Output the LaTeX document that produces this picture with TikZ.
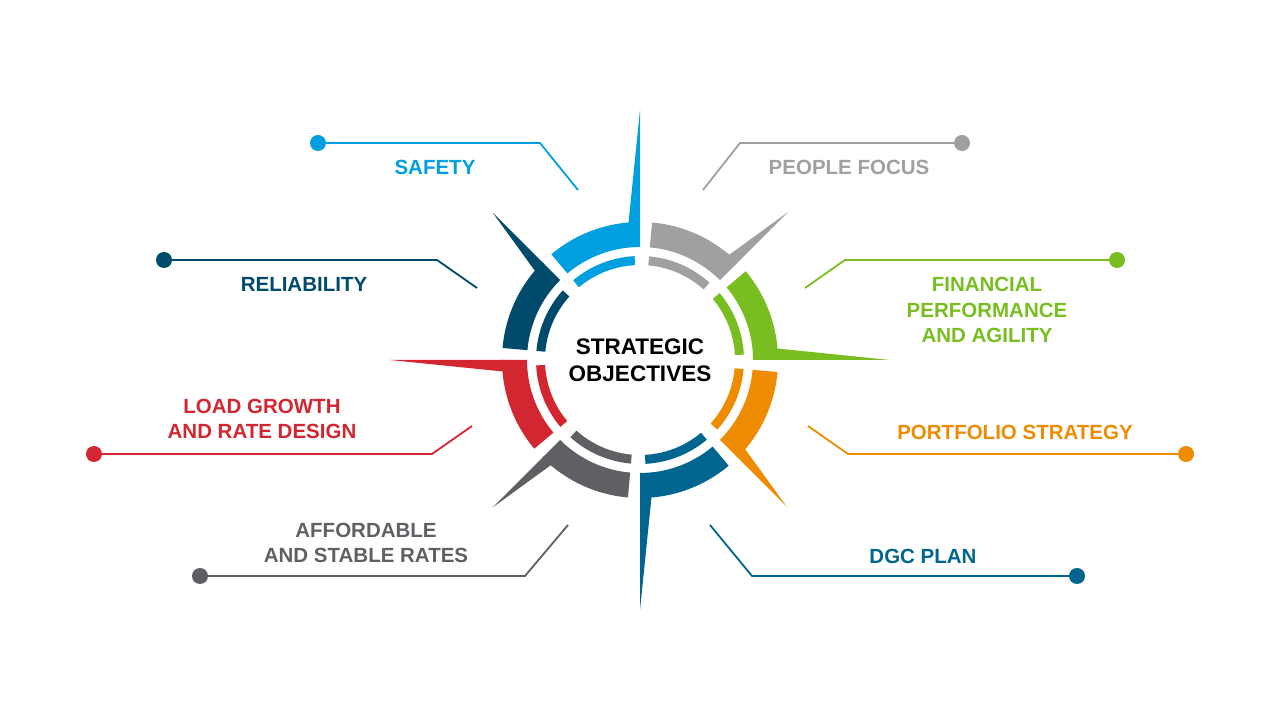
\documentclass[tikz,border=0pt]{standalone}
\usepackage{fontspec}
\setmainfont{Liberation Sans}
\usetikzlibrary{calc}
\definecolor{csky}{HTML}{009FDF}
\definecolor{cgrey}{HTML}{A0A0A0}
\definecolor{cgreen}{HTML}{78BE20}
\definecolor{corange}{HTML}{EE8B00}
\definecolor{cblue}{HTML}{00658F}
\definecolor{cdgrey}{HTML}{5F6064}
\definecolor{cred}{HTML}{D22630}
\definecolor{cnavy}{HTML}{004B6B}
\tikzset{lbl/.style={font=\bfseries\fontsize{20.5}{25.5}\selectfont, align=center, inner sep=0pt},
 lead/.style={line width=1.8pt},
 dotst/.style={circle, inner sep=0pt, minimum size=16pt}}
\begin{document}
\begin{tikzpicture}[x=1pt,y=1pt]
\useasboundingbox (0,0) rectangle (1280,720);
\coordinate (c) at (640,360);
\foreach \a/\col/\len in {90/csky/250,45/cgrey/209,0/cgreen/250,-45/corange/208,-90/cblue/250,-135/cdgrey/209,180/cred/250,135/cnavy/208}{
  \fill[\col] ($(c)+(\a:138)$) arc[start angle=\a, end angle=\a+40, radius=138]
     -- ($(c)+(\a+40:113)$) arc[start angle=\a+40, end angle=\a, radius=113] -- cycle;
  \fill[\col] ($(c)+(\a+3:104)$) arc[start angle=\a+3, end angle=\a+40, radius=104]
     -- ($(c)+(\a+40:95)$) arc[start angle=\a+40, end angle=\a+3, radius=95] -- cycle;
  \fill[\col] ($(c)+(\a:135)$) -- ($(c)+(\a:\len)$) -- ($(c)+(\a+5:135)$) -- cycle;
}
\node[font=\bfseries\fontsize{22.5}{27}\selectfont, align=center] (ctr) at (c) {STRATEGIC\\OBJECTIVES};
% leaders
\node[dotst, fill=csky] (d1) at (318,577) {};
\coordinate (k1) at (540,577); \coordinate (e1) at (578,530);
\draw[lead, csky] (d1) -- (k1) -- (e1);
\node[lbl, text=csky] (t1) at (435,553) {SAFETY};
\node[dotst, fill=cgrey] (d2) at (962,577) {};
\coordinate (k2) at (740,577); \coordinate (e2) at (703,530);
\draw[lead, cgrey] (d2) -- (k2) -- (e2);
\node[lbl, text=cgrey] (t2) at (849,553) {PEOPLE FOCUS};
\node[dotst, fill=cnavy] (d3) at (164,460) {};
\coordinate (k3) at (437,460); \coordinate (e3) at (477,432);
\draw[lead, cnavy] (d3) -- (k3) -- (e3);
\node[lbl, text=cnavy] (t3) at (304,436) {RELIABILITY};
\node[dotst, fill=cgreen] (d4) at (1117,460) {};
\coordinate (k4) at (845,460); \coordinate (e4) at (805,432);
\draw[lead, cgreen] (d4) -- (k4) -- (e4);
\node[lbl, text=cgreen] (t4) at (987,410) {FINANCIAL\\PERFORMANCE\\AND AGILITY};
\node[dotst, fill=cred] (d5) at (94,266) {};
\coordinate (k5) at (432,266); \coordinate (e5) at (472,294);
\draw[lead, cred] (d5) -- (k5) -- (e5);
\node[lbl, text=cred] (t5) at (262,301) {LOAD GROWTH\\AND RATE DESIGN};
\node[dotst, fill=corange] (d6) at (1186,266) {};
\coordinate (k6) at (848,266); \coordinate (e6) at (808,294);
\draw[lead, corange] (d6) -- (k6) -- (e6);
\node[lbl, text=corange] (t6) at (1015,288) {PORTFOLIO STRATEGY};
\node[dotst, fill=cdgrey] (d7) at (200,144) {};
\coordinate (k7) at (525,144); \coordinate (e7) at (568,195);
\draw[lead, cdgrey] (d7) -- (k7) -- (e7);
\node[lbl, text=cdgrey] (t7) at (366,177) {AFFORDABLE\\AND STABLE RATES};
\node[dotst, fill=cblue] (d8) at (1077,144) {};
\coordinate (k8) at (752,144); \coordinate (e8) at (710,195);
\draw[lead, cblue] (d8) -- (k8) -- (e8);
\node[lbl, text=cblue] (t8) at (923,164) {DGC PLAN};
\end{tikzpicture}
\end{document}
